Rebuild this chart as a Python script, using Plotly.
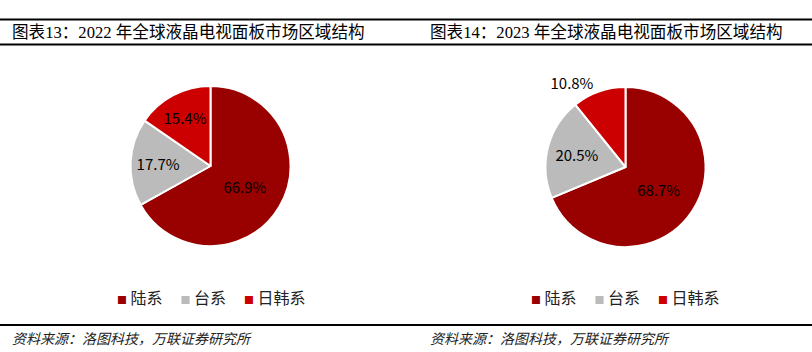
import plotly.graph_objects as go

# ---- data ----
labels = ["陆系", "台系", "日韩系"]
share_2022 = [66.9, 17.7, 15.4]
share_2023 = [68.7, 20.5, 10.8]
colors = ["#990000", "#BBBBBB", "#CC0000"]
titles = ["图表13：2022 年全球液晶电视面板市场区域结构",
          "图表14：2023 年全球液晶电视面板市场区域结构"]
source = "资料来源：洛图科技，万联证券研究所"

W, H = 812, 352
label_font = dict(family="Noto Sans CJK SC", size=15, color="#000000")

fig = go.Figure()

fig.add_trace(go.Pie(
    labels=labels, values=share_2022, sort=False, direction="clockwise", rotation=0,
    marker=dict(colors=colors, line=dict(color="white", width=2)),
    text=[f"{v:.1f}%" for v in share_2022], textinfo="text",
    textposition="inside", insidetextorientation="horizontal",
    textfont=label_font, insidetextfont=label_font,
    domain=dict(x=[130.5 / W, 290.5 / W], y=[1 - 246 / H, 1 - 86 / H]),
    showlegend=False, hoverinfo="label+percent",
))

fig.add_trace(go.Pie(
    labels=labels, values=share_2023, sort=False, direction="clockwise", rotation=0,
    marker=dict(colors=colors, line=dict(color="white", width=2)),
    text=[f"{v:.1f}%" for v in share_2023], textinfo="text",
    textposition=["inside", "inside", "outside"], insidetextorientation="horizontal",
    textfont=label_font, insidetextfont=label_font, outsidetextfont=label_font,
    domain=dict(x=[545.5 / W, 705.5 / W], y=[1 - 247 / H, 1 - 87 / H]),
    showlegend=False, hoverinfo="label+percent",
))

# rules (title bars and footer line)
for yy in [19.5, 44.5, 325]:
    fig.add_shape(type="line", xref="paper", yref="paper",
                  x0=0, x1=1, y0=1 - yy / H, y1=1 - yy / H,
                  line=dict(color="#000000", width=2))

annotations = []
title_font = dict(family="Liberation Serif, Noto Sans CJK SC", size=16.6, color="#000000")
for t, x0 in zip(titles, [10, 428]):
    annotations.append(dict(text=t, x=x0 / W, y=1 - 32.5 / H, xref="paper", yref="paper",
                            xanchor="left", yanchor="middle", showarrow=False, font=title_font))

foot_font = dict(family="Noto Sans CJK SC", size=14, color="#222222")
for x0 in [10, 428]:
    annotations.append(dict(text=f"<i>{source}</i>", x=x0 / W, y=1 - 338 / H,
                            xref="paper", yref="paper", xanchor="left", yanchor="middle",
                            showarrow=False, font=foot_font))

gap = "&nbsp;" * 5
legend_text = gap.join(
    f"<span style='color:{c};font-size:10px'>■</span>&nbsp;{lab}" for lab, c in zip(labels, colors))
leg_font = dict(family="Noto Sans CJK SC", size=16, color="#222222")
for cx in [211.5, 625.5]:
    annotations.append(dict(text=legend_text, x=cx / W, y=1 - 297 / H, xref="paper", yref="paper",
                            xanchor="center", yanchor="middle", showarrow=False, font=leg_font))

fig.update_layout(
    width=W, height=H, margin=dict(l=0, r=0, t=0, b=0),
    paper_bgcolor="white", plot_bgcolor="white",
    annotations=annotations, showlegend=False,
)

fig.write_html("out.html")
